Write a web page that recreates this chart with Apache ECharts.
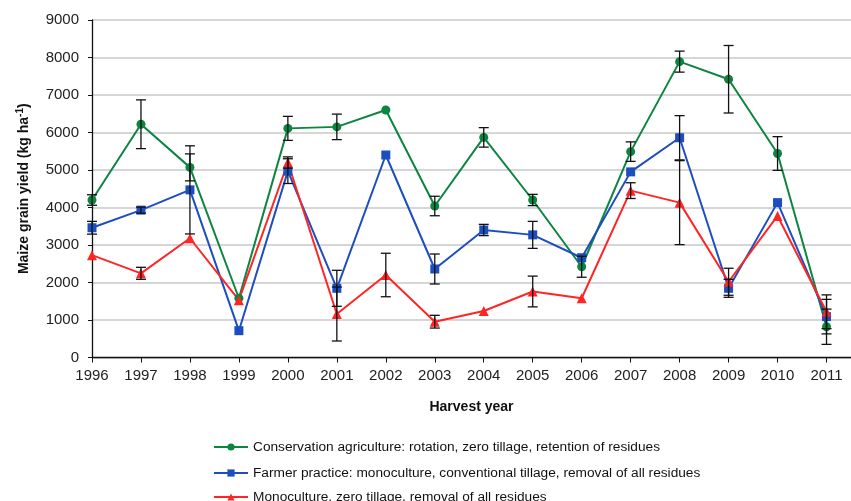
<!DOCTYPE html>
<html>
<head>
<meta charset="utf-8">
<script src="https://cdn.jsdelivr.net/npm/echarts@6/dist/echarts.min.js"></script>
<style>
  html, body { margin: 0; padding: 0; background: #fff; }
  #chart { width: 851px; height: 501px; }
</style>
</head>
<body>
<div id="chart"></div>
<script>
// harvest years
const years = [1996, 1997, 1998, 1999, 2000, 2001, 2002, 2003, 2004, 2005, 2006, 2007, 2008, 2009, 2010, 2011]

// conservation agriculture
const caYield = [4200, 6220, 5070, 1580, 6110, 6150, 6600, 4040, 5870, 4200, 2420, 5490, 7890, 7420, 5440, 820]
const caErr = [140, 650, 360, 0, 320, 340, 0, 260, 260, 150, 280, 260, 280, 900, 450, 470]

// farmer practice
const fpYield = [3460, 3930, 4470, 715, 4970, 1845, 5400, 2360, 3400, 3270, 2660, 4950, 5860, 1845, 4130, 1090]
const fpErr = [170, 80, 1175, 0, 330, 480, 0, 400, 150, 360, 0, 0, 590, 240, 0, 460]

// monoculture, zero tillage
const mzYield = [2730, 2245, 3180, 1530, 5200, 1160, 2200, 955, 1240, 1760, 1580, 4450, 4130, 2020, 3775, 1220]
const mzErr = [0, 160, 0, 0, 150, 720, 580, 170, 0, 410, 0, 210, 1120, 360, 0, 450]

const yTicks = [0, 1000, 2000, 3000, 4000, 5000, 6000, 7000, 8000, 9000]

const names = [
  'Conservation agriculture: rotation, zero tillage, retention of residues',
  'Farmer practice: monoculture, conventional tillage, removal of all residues',
  'Monoculture, zero tillage, removal of all residues'
]

const font = 'Liberation Sans, Arial, sans-serif'

function pairs(vals) {
  return years.map((y, i) => [y, vals[i]])
}

function errData(vals, errs) {
  const out = []
  years.forEach((y, i) => {
    if (errs[i] > 0) out.push([y, vals[i] - errs[i], vals[i] + errs[i]])
  })
  return out
}

function errSeries(vals, errs) {
  return {
    type: 'custom',
    z: 5,
    silent: true,
    data: errData(vals, errs),
    renderItem: function (params, api) {
      const lo = api.coord([api.value(0), api.value(1)])
      const hi = api.coord([api.value(0), api.value(2)])
      const w = 5
      const st = { stroke: '#111', lineWidth: 1.3 }
      return {
        type: 'group',
        children: [
          { type: 'line', shape: { x1: lo[0], y1: lo[1], x2: hi[0], y2: hi[1] }, style: st },
          { type: 'line', shape: { x1: lo[0] - w, y1: lo[1], x2: lo[0] + w, y2: lo[1] }, style: st },
          { type: 'line', shape: { x1: hi[0] - w, y1: hi[1], x2: hi[0] + w, y2: hi[1] }, style: st }
        ]
      }
    }
  }
}

function lineSeries(name, vals, color, symbol, size) {
  return {
    name: name,
    type: 'line',
    data: pairs(vals),
    symbol: symbol,
    symbolSize: size,
    z: 3,
    lineStyle: { color: color, width: 2 },
    itemStyle: { color: color },
    emphasis: { disabled: true }
  }
}

// one legend per row so the list never wraps into columns
function legendRow(name, top) {
  return {
    data: [name],
    left: 213,
    top: top,
    padding: 0,
    itemWidth: 34,
    itemHeight: 9,
    textStyle: { fontSize: 13.7, color: '#111', fontFamily: font }
  }
}

const chart = echarts.init(document.getElementById('chart'))

chart.setOption({
  animation: false,
  textStyle: { fontFamily: font },
  grid: { left: 92, right: 0, top: 20, bottom: 143.5, containLabel: false },
  legend: [
    legendRow(names[0], 440),
    legendRow(names[1], 466),
    legendRow(names[2], 490)
  ],
  xAxis: {
    type: 'value',
    min: 1996,
    max: 2011.5,
    interval: 1,
    name: 'Harvest year',
    nameLocation: 'middle',
    nameGap: 43,
    nameTextStyle: { fontSize: 14, fontWeight: 'bold', color: '#111' },
    axisLine: { lineStyle: { color: '#111', width: 1.3 } },
    axisTick: { length: 5, lineStyle: { color: '#111' } },
    axisLabel: {
      fontSize: 15,
      color: '#222',
      margin: 11,
      showMaxLabel: false,
      formatter: v => (Number.isInteger(v) ? String(v) : '')
    },
    splitLine: { show: false }
  },
  yAxis: {
    type: 'value',
    min: yTicks[0],
    max: yTicks[yTicks.length - 1],
    interval: 1000,
    name: '{b|Maize grain yield (kg ha}{s|-1}{b|)}',
    nameLocation: 'middle',
    nameGap: 59,
    nameRotate: 90,
    nameTextStyle: {
      rich: {
        b: { fontSize: 14, fontWeight: 'bold', color: '#111', fontFamily: font },
        s: { fontSize: 10, fontWeight: 'bold', color: '#111', fontFamily: font, verticalAlign: 'top', padding: [0, 0, 8, 0] }
      }
    },
    axisLine: { show: true, lineStyle: { color: '#111', width: 1.3 } },
    axisTick: { show: true, length: 4, lineStyle: { color: '#111' } },
    axisLabel: { fontSize: 15, color: '#222', margin: 13, formatter: v => String(v) },
    splitLine: { lineStyle: { color: '#c9c9c9', width: 1.5 } }
  },
  series: [
    lineSeries(names[0], caYield, '#0B8540', 'circle', 9),
    lineSeries(names[1], fpYield, '#1C4EC0', 'rect', 9),
    lineSeries(names[2], mzYield, '#FF2525', 'triangle', 10),
    errSeries(caYield, caErr),
    errSeries(fpYield, fpErr),
    errSeries(mzYield, mzErr)
  ]
})
</script>
</body>
</html>
